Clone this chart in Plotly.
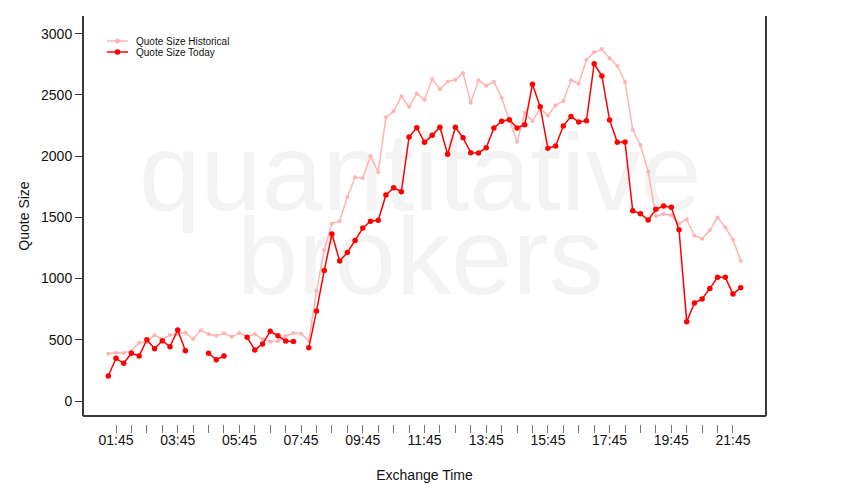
import pandas as pd
import plotly.graph_objects as go

# ---- data (15-minute buckets, 01:30 .. 22:00) ----
start_time = "2013-06-10 01:30"
end_time = "2013-06-10 22:00"
times = pd.date_range(start_time, end_time, freq="15min")

historical = [387, 395, 392, 411, 476, 482, 537, 504, 539, 547, 558, 506, 577, 547, 533, 553,
              525, 555, 525, 547, 506, 484, 490, 531, 553, 550, 493,
              901, 1233, 1451, 1470, 1666, 1827, 1821, 2001, 1870, 2317, 2366, 2489, 2401, 2510,
              2461, 2630, 2546, 2608, 2625, 2679, 2437, 2620, 2576, 2608, 2477, 2295, 2118, 2355,
              2287, 2388, 2333, 2415, 2450, 2620, 2592, 2788, 2848, 2875, 2799, 2739, 2606, 2216,
              2091, 1876, 1509, 1527, 1517, 1448, 1484, 1350, 1326, 1394, 1500, 1419, 1318, 1143]

today = [204, 349, 308, 390, 368, 501, 427, 493, 444, 580, 411, None, None, 390, 338, 368,
         None, None, 520, 417, 466, 569, 533, 490, 487, None, 436,
         735, 1067, 1364, 1143, 1214, 1312, 1413, 1468, 1476, 1683, 1742, 1710, 2156, 2233,
         2113, 2170, 2236, 2015, 2236, 2151, 2028, 2026, 2069, 2230, 2285, 2298, 2230, 2257,
         2587, 2404, 2064, 2083, 2246, 2325, 2279, 2290, 2755, 2655, 2295, 2113, 2116, 1554,
         1530, 1478, 1566, 1593, 1582, 1399, 648, 800, 833, 920, 1010, 1010, 874, 926]

series_names = ["Quote Size Historical", "Quote Size Today"]
watermark_words = ["quantitative", "brokers"]
y_tick_values = [0, 500, 1000, 1500, 2000, 2500, 3000]
x_tick_times = pd.date_range("2013-06-10 01:45", "2013-06-10 21:45", freq="30min")
x_tick_labels = [t.strftime("%H:%M") if i % 4 == 0 else "" for i, t in enumerate(x_tick_times)]

# ---- styling ----
HIST_COLOR = "#ffb3b3"
TODAY_COLOR = "#ff0000"
AXIS_COLOR = "#3a3a3a"
WM_COLOR = "#f3f3f3"
FONT = "Liberation Sans, Arial, sans-serif"

# page is offset by the 8px body margin; figure sized so it ends at 850x500
OFF = 8
W, H = 842, 492
ML, MR, MT, MB = 75, 84, 8, 76
PW, PH = W - ML - MR, H - MT - MB


def px(x):  # page pixel -> paper fraction
    return (x - OFF - ML) / PW


def py(y):
    return (H + OFF - MB - y) / PH


span = pd.Timedelta(times[-1] - times[0])
pad = span * 0.04
x_range = [times[0] - pad, times[-1] + pad]
y_range = [-122.5, 3145]
bottom_frac = 8 / PH  # gap between box bottom and tick row

# watermark positions as fractions of the axis ranges
x_mid = x_range[0] + (x_range[1] - x_range[0]) * 0.494
wm_y = [y_range[0] + (y_range[1] - y_range[0]) * f for f in (0.584, 0.374)]

fig = go.Figure()
fig.add_trace(go.Scatter(x=[x_mid, x_mid], y=wm_y, mode="text", text=watermark_words,
                         textposition="middle center", hoverinfo="skip", showlegend=False,
                         textfont=dict(size=110, color=WM_COLOR, family=FONT)))
fig.add_trace(go.Scatter(x=times, y=historical, mode="lines+markers", name=series_names[0],
                         line=dict(color=HIST_COLOR, width=1.5),
                         marker=dict(color=HIST_COLOR, size=4), showlegend=False))
fig.add_trace(go.Scatter(x=times, y=today, mode="lines+markers", name=series_names[1],
                         line=dict(color=TODAY_COLOR, width=1.5), connectgaps=False,
                         marker=dict(color=TODAY_COLOR, size=5.5), showlegend=False))

fig.update_layout(
    width=W, height=H,
    margin=dict(l=ML, r=MR, t=MT, b=MB),
    paper_bgcolor="white", plot_bgcolor="white",
    font=dict(family=FONT, size=14, color="#111"),
    xaxis=dict(type="date", range=x_range, anchor="free", position=0, automargin=False,
               tickvals=list(x_tick_times), ticktext=x_tick_labels,
               ticks="outside", ticklen=8, tickcolor="#777", tickwidth=1,
               ticklabelstandoff=-5,
               showgrid=False, zeroline=False, showline=False,
               tickfont=dict(size=14),
               title=dict(text="Exchange Time", standoff=23, font=dict(size=14))),
    yaxis=dict(domain=[bottom_frac, 1], range=y_range, automargin=False,
               tickvals=y_tick_values, ticks="outside", ticklen=7, tickcolor=AXIS_COLOR,
               showgrid=False, zeroline=False, showline=False, tickfont=dict(size=14),
               title=dict(text="Quote Size", standoff=8, font=dict(size=14))),
)

# open-top box (left, bottom, right)
for (x0, y0, x1, y1) in [(0, 0, 0, 1), (0, 0, 1, 0), (1, 0, 1, 1)]:
    fig.add_shape(type="line", xref="paper", yref="y domain", x0=x0, y0=y0, x1=x1, y1=y1,
                  line=dict(color=AXIS_COLOR, width=2), layer="above")

# legend (manual)
legend_rows = [(series_names[0], HIST_COLOR, 41, 5), (series_names[1], TODAY_COLOR, 52, 5.5)]
for name, color, yy, msize in legend_rows:
    fig.add_shape(type="line", xref="paper", yref="paper", x0=px(107), x1=px(128),
                  y0=py(yy), y1=py(yy), line=dict(color=color, width=1.5))
    r = msize / 2
    fig.add_shape(type="circle", xref="paper", yref="paper", x0=px(117.5 - r), x1=px(117.5 + r),
                  y0=py(yy - r), y1=py(yy + r), line=dict(color=color, width=0), fillcolor=color)
    fig.add_annotation(text=name, xref="paper", yref="paper", x=px(134), y=py(yy),
                       showarrow=False, xanchor="left", yanchor="middle",
                       font=dict(size=10, color="#111", family=FONT))

fig.write_html("out.html")
